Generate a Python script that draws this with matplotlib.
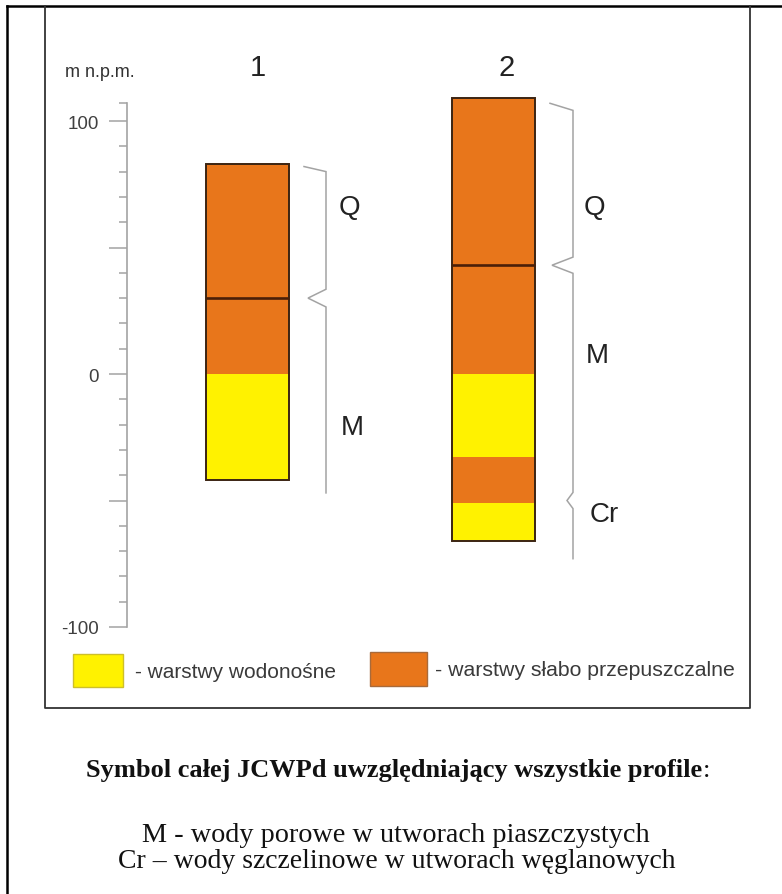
import matplotlib
matplotlib.use("Agg")
import matplotlib.pyplot as plt
from matplotlib.patches import Rectangle

# profile columns (m n.p.m.)
profile_names = ["1", "2"]
p1_bounds = [83, 30, 0, -42]
p1_types = ["weak", "weak", "aquifer"]
p2_bounds = [109, 43, 0, -33, -51, -66]
p2_types = ["weak", "weak", "aquifer", "weak", "aquifer"]
# Q / M boundary drawn as a dark line
p1_strat_line = 30
p2_strat_line = 43

# stratigraphic braces: (label, top, bottom)
p1_units = [("Q", 82, 30), ("M", 30, -47)]
p2_units = [("Q", 107, 43), ("M", 43, -50), ("Cr", -50, -73)]

yticks_major = [-100, -50, 0, 50, 100]
ytick_labels = ["-100", "", "0", "", "100"]
yticks_minor = [-90, -80, -70, -60, -40, -30, -20, -10,
                10, 20, 30, 40, 60, 70, 80, 90, 107]

legend_labels = ["- warstwy wodonośne", "- warstwy słabo przepuszczalne"]

ORANGE = "#E8761B"
YELLOW = "#FFF200"
EDGE = "#3b2412"
GRAY = "#a3a3a3"
colors = {"weak": ORANGE, "aquifer": YELLOW}

W, H = 782, 895
fig = plt.figure(figsize=(W / 100, H / 100), dpi=100)

# overlay in pixel coordinates for frame and texts
bg = fig.add_axes([0, 0, 1, 1])
bg.set_xlim(0, W)
bg.set_ylim(H, 0)
bg.axis("off")

# main axis: x in pixels, y in metres
px_top, px_bot = 90, 650
y0_px, scale = 375, 2.53
ax = fig.add_axes([127 / W, 1 - px_bot / H, (750 - 127) / W, (px_bot - px_top) / H])
ax.set_xlim(127, 750)
ax.set_ylim((y0_px - px_bot) / scale, (y0_px - px_top) / scale)
ax.patch.set_visible(False)
for s in ["top", "right", "bottom"]:
    ax.spines[s].set_visible(False)
ax.spines["left"].set_color(GRAY)
ax.spines["left"].set_linewidth(1.2)
ax.spines["left"].set_bounds(-100, 107)
ax.set_xticks([])
ax.set_yticks(yticks_major)
ax.set_yticklabels(ytick_labels)
ax.set_yticks(yticks_minor, minor=True)
ax.tick_params(axis="y", which="major", length=13, width=1.1, color=GRAY,
               labelcolor="#404040", labelsize=13.5, pad=7)
ax.tick_params(axis="y", which="minor", length=6, width=1.1, color=GRAY)
for t in ax.get_yticklabels():
    t.set_fontfamily("Liberation Sans")

col_x = [247.5, 493.5]
col_w = 83


def draw_column(xc, bounds, types, strat_line):
    for i, typ in enumerate(types):
        ax.bar(xc, bounds[i + 1] - bounds[i], bottom=bounds[i], width=col_w,
               color=colors[typ], edgecolor="none", zorder=2)
    ax.bar(xc, bounds[-1] - bounds[0], bottom=bounds[0], width=col_w,
           fill=False, edgecolor=EDGE, linewidth=1.4, zorder=3)
    ax.hlines(strat_line, xc - col_w / 2, xc + col_w / 2, color="#4a1f08",
              linewidth=1.9, zorder=3)


draw_column(col_x[0], p1_bounds, p1_types, p1_strat_line)
draw_column(col_x[1], p2_bounds, p2_types, p2_strat_line)


def draw_brace(units, x_hook, x_line, notch_x, notch_d, hook_d):
    xs = [x_hook, x_line]
    ys = [units[0][1], units[0][1] - hook_d]
    for k, (lab, top, bot) in enumerate(units[:-1]):
        nx = notch_x[k]
        xs += [x_line, nx, x_line]
        ys += [bot + notch_d, bot, bot - notch_d]
    xs.append(x_line)
    ys.append(units[-1][2])
    ax.plot(xs, ys, color=GRAY, linewidth=1.1, zorder=2,
            solid_joinstyle="miter")


draw_brace(p1_units, 304, 326, [308], 3.5, 2.0)
draw_brace(p2_units, 550, 573, [552, 567], 3.2, 2.8)

# unit labels (pixel positions)
unit_label_pos = [(349, 208, "Q"), (352, 428, "M"),
                  (594, 208, "Q"), (597, 356, "M"), (604, 515, "Cr")]
for x, y, lab in unit_label_pos:
    bg.text(x, y, lab, fontsize=20, family="Liberation Sans", color="#222222",
            ha="center", va="center")

# profile numbers
for x, name in zip([258, 507], profile_names):
    bg.text(x, 68, name, fontsize=21, family="Liberation Sans", color="#222222",
            ha="center", va="center")
bg.text(100, 72, "m n.p.m.", fontsize=13, family="Liberation Sans",
        color="#333333", ha="center", va="center")

# legend
bg.add_patch(Rectangle((73, 655), 50, 33, facecolor=YELLOW, edgecolor="#cdbf2a",
                       linewidth=1))
bg.add_patch(Rectangle((370, 653), 57, 34, facecolor=ORANGE, edgecolor="#a86a3a",
                       linewidth=1))
bg.text(135, 672, legend_labels[0], fontsize=15, family="Liberation Sans",
        color="#3a3a3a", va="center", ha="left")
bg.text(435, 671, legend_labels[1], fontsize=15.3, family="Liberation Sans",
        color="#3a3a3a", va="center", ha="left")

# frames
bg.plot([7, W], [7, 7], color="black", linewidth=1.8)
bg.plot([7, 7], [7, H], color="black", linewidth=1.8)
bg.plot([45, 45, 750, 750], [7, 709, 709, 7], color="#333333", linewidth=1.3)

# bottom text
title = bg.text(394, 771, "Symbol całej JCWPd uwzględniający wszystkie profile",
                fontsize=19, family="Liberation Serif", fontweight="bold",
                color="#111111", ha="center", va="center")
fig.canvas.draw()
bb = title.get_window_extent(fig.canvas.get_renderer())
bg.text(bb.x1 + 1, 771, ":", fontsize=19, family="Liberation Serif",
        color="#111111", ha="left", va="center")
bg.text(396, 836, "M - wody porowe w utworach piaszczystych", fontsize=20.3,
        family="Liberation Serif", color="#111111", ha="center", va="center")
bg.text(397, 862, "Cr \u2013 wody szczelinowe w utworach węglanowych", fontsize=20,
        family="Liberation Serif", color="#111111", ha="center", va="center")

fig.savefig("out.png", dpi=100)
